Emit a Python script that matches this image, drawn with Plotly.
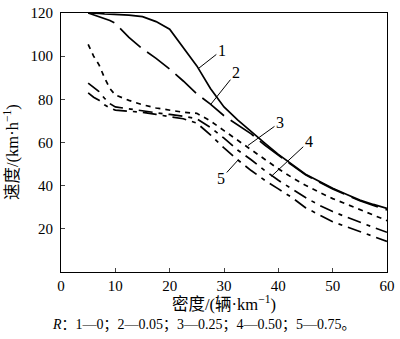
import plotly.graph_objects as go

density = [5, 6, 7, 8, 9, 10, 12.5, 15, 17.5, 20, 22.5, 25, 27.5, 30, 32.5, 35,
           37.5, 40, 42.5, 45, 47.5, 50, 52.5, 55, 57.5, 60]

speed_1 = [120, 120, 119.8, 119.6, 119.5, 119.3, 119, 118.3, 116, 112.5, 104, 95.5,
           85, 76.5, 70.5, 65, 59.7, 54.5, 50, 45.3, 42, 38.8, 36, 33.3, 31.3, 29.5]
speed_2 = [120, 119.2, 118.3, 117.4, 116.5, 115.2, 108.7, 103.4, 99, 94, 88.5, 82.5,
           77.8, 72.4, 68.2, 64, 58.8, 54, 49.5, 45, 41.8, 38.5, 35.7, 33, 30.8, 28.8]
speed_3 = [105.5, 100, 96, 90, 85, 82, 79.5, 77.5, 76, 75, 74, 73.5,
           70, 65.5, 61, 56.5, 52, 47.8, 43.8, 40.2, 37, 34, 31.5, 29, 26.3, 23.8]
speed_4 = [87.5, 85.5, 83.6, 80.5, 78, 76.5, 75.5, 74.5, 73.8, 73, 72.2, 71,
           67, 62, 56.5, 52, 47, 42.5, 38.5, 34.5, 31, 28, 25.5, 23, 20.7, 18.4]
speed_5 = [83, 81, 79.6, 77.5, 76, 75, 74.5, 74, 73, 72, 71, 69,
           63.5, 57.5, 52, 47, 42.5, 38.5, 34.5, 29.8, 26.5, 23.3, 21, 18.8, 16.4, 14.2]

series = [speed_1, speed_2, speed_3, speed_4, speed_5]
dashes = ["solid", "28px,8px", "5px,5px", "14px,6px,4px,6px", "14px,6px,4px,6px"]

label_text = ["1", "2", "3", "4", "5"]
label_x = [29.6, 32.2, 40.3, 45.6, 29.5]
label_y = [102.8, 92.3, 69.3, 60.4, 43.3]
point_x = [25.3, 27.6, 34.4, 38.7, 32.6]
point_y = [94.3, 77.8, 58.6, 44.3, 51.9]

x_ticks = [0, 10, 20, 30, 40, 50, 60]
y_ticks = [20, 40, 60, 80, 100, 120]

serif = "Liberation Serif, Noto Sans CJK SC, serif"

fig = go.Figure()
for s, d in zip(series, dashes):
    fig.add_trace(go.Scatter(x=density, y=s, mode="lines",
                             line=dict(color="black", width=1.7, dash=d),
                             showlegend=False, hoverinfo="skip"))

for t, lx, ly, px, py in zip(label_text, label_x, label_y, point_x, point_y):
    fig.add_annotation(x=px, y=py, ax=lx, ay=ly, axref="x", ayref="y",
                       xref="x", yref="y", text=t, showarrow=True, arrowhead=0,
                       arrowwidth=1, arrowcolor="black",
                       font=dict(family=serif, size=16, color="black"))

fig.add_annotation(x=0.5, y=-0.075, xref="paper", yref="paper",
                   text="密度/(辆·km<sup>−1</sup>)", showarrow=False,
                   font=dict(family=serif, size=16.5, color="black"),
                   yanchor="top")
fig.add_annotation(x=-0.152, y=0.465, xref="paper", yref="paper",
                   xanchor="center", yanchor="middle",
                   text="速度/(km·h<sup>−1</sup>)", showarrow=False, textangle=-90,
                   font=dict(family=serif, size=16.5, color="black"))
fig.add_annotation(x=0.44, y=-0.165, xref="paper", yref="paper",
                   text="<i>R</i>：1—0；2—0.05；3—0.25；4—0.50；5—0.75。",
                   showarrow=False, yanchor="top",
                   font=dict(family=serif, size=14, color="black"))

fig.update_xaxes(range=[0, 60], tickvals=x_ticks, ticks="inside", ticklen=4,
                 showline=True, linecolor="black", linewidth=1, mirror=True,
                 showgrid=False, zeroline=False,
                 tickfont=dict(family=serif, size=15, color="black"))
fig.update_yaxes(range=[0, 120], tickvals=y_ticks, ticks="inside", ticklen=4,
                 showline=True, linecolor="black", linewidth=1, mirror=True,
                 showgrid=False, zeroline=False, ticklabeloverflow="allow",
                 ticklabelstandoff=4,
                 tickfont=dict(family=serif, size=15, color="black"))

fig.update_layout(width=400, height=339, margin=dict(l=61, r=9, t=5, b=67),
                  plot_bgcolor="white", paper_bgcolor="white")

fig.write_html("out.html")
